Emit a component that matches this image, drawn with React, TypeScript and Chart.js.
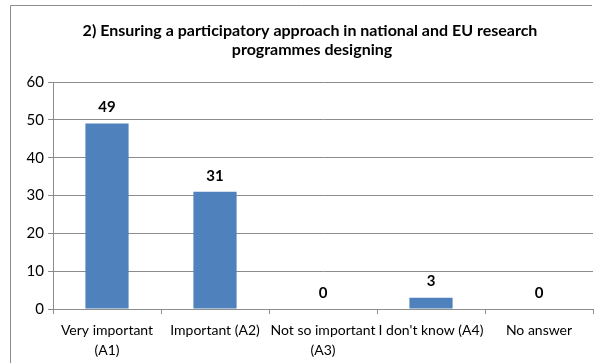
import React, { useEffect, useRef } from "react";
import { Chart, registerables } from "chart.js";

Chart.register(...registerables);

const titleLines = [
  "2) Ensuring a participatory approach in national and EU research",
  "programmes designing",
];
const categories: (string | string[])[] = [
  ["Very important", "(A1)"],
  "Important (A2)",
  ["Not so important", "(A3)"],
  "I don't know (A4)",
  "No answer",
];
const values = [49, 31, 0, 3, 0];
const yTicks = [0, 10, 20, 30, 40, 50, 60];

const FONT = "Lato";

const framePlugin = {
  id: "frameAndTitle",
  beforeDraw(chart: any) {
    const ctx = chart.ctx;
    ctx.save();
    ctx.fillStyle = "#ffffff";
    ctx.fillRect(0, 0, chart.width, chart.height);
    ctx.strokeStyle = "#8c8c8c";
    ctx.lineWidth = 1;
    ctx.beginPath();
    ctx.moveTo(10.5, 363);
    ctx.lineTo(10.5, 5.5);
    ctx.lineTo(592, 5.5);
    ctx.stroke();
    ctx.fillStyle = "#000000";
    ctx.font = `bold 16px ${FONT}`;
    ctx.textAlign = "center";
    ctx.textBaseline = "middle";
    ctx.fillText(titleLines[0], 310, 31);
    ctx.fillText(titleLines[1], 312, 50);
    ctx.restore();
  },
};

const labelPlugin = {
  id: "valueLabels",
  afterDatasetsDraw(chart: any) {
    const ctx = chart.ctx;
    const meta = chart.getDatasetMeta(0);
    ctx.save();
    ctx.fillStyle = "#000000";
    ctx.font = `bold 15px ${FONT}`;
    ctx.textAlign = "center";
    ctx.textBaseline = "middle";
    meta.data.forEach((bar: any, i: number) => {
      ctx.fillText(String(values[i]), bar.x, bar.y - 16);
    });
    ctx.restore();
  },
};

export default function App() {
  const ref = useRef<HTMLCanvasElement>(null);
  useEffect(() => {
    if (!ref.current) return;
    const chart = new Chart(ref.current, {
      type: "bar",
      data: {
        labels: categories,
        datasets: [
          {
            data: values,
            backgroundColor: "#4f81bd",
            barPercentage: 0.8,
            categoryPercentage: 0.5,
          },
        ],
      },
      options: {
        animation: false,
        responsive: false,
        layout: { padding: { left: 10, right: 7, top: 82, bottom: 0 } },
        plugins: { legend: { display: false }, tooltip: { enabled: false }, title: { display: false } },
        scales: {
          x: {
            offset: true,
            grid: { offset: true, drawOnChartArea: false, drawTicks: true, tickLength: 5, color: "#8c8c8c" },
            border: { color: "#8c8c8c" },
            ticks: {
              autoSkip: false,
              maxRotation: 0,
              minRotation: 0,
              padding: 6,
              color: "#000000",
              font: { family: FONT, size: 14, lineHeight: 1.45 },
            },
            afterFit: (s: any) => {
              s.height = 54;
            },
          },
          y: {
            min: 0,
            max: 60,
            afterBuildTicks: (s: any) => {
              s.ticks = yTicks.map((v) => ({ value: v }));
            },
            grid: { drawTicks: true, tickLength: 5, color: "#8c8c8c" },
            border: { color: "#8c8c8c" },
            ticks: { padding: 4, color: "#000000", font: { family: FONT, size: 15 } },
            afterFit: (s: any) => {
              s.width = 43;
            },
          },
        },
      },
      plugins: [framePlugin, labelPlugin],
    });
    return () => chart.destroy();
  }, []);
  return (
    <div style={{ position: "fixed", left: 0, top: 0, width: 600, height: 363 }}>
      <canvas ref={ref} width={600} height={363} />
    </div>
  );
}
